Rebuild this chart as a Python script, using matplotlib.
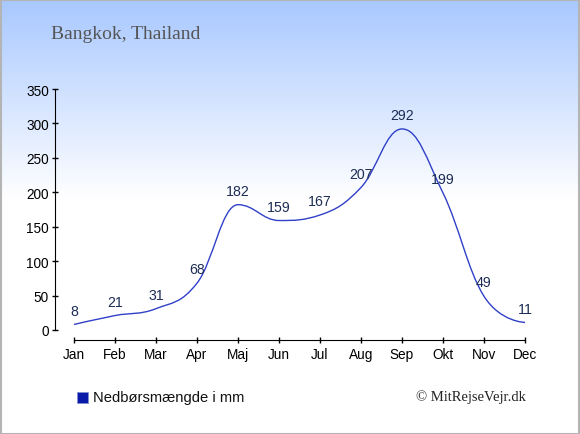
import numpy as np
import matplotlib
matplotlib.use("Agg")
import matplotlib.pyplot as plt
from matplotlib.colors import LinearSegmentedColormap
from matplotlib.path import Path
from matplotlib.patches import PathPatch

months = ["Jan", "Feb", "Mar", "Apr", "Maj", "Jun", "Jul", "Aug", "Sep", "Okt", "Nov", "Dec"]
rain = [8, 21, 31, 68, 182, 159, 167, 207, 292, 199, 49, 11]
yticks = [0, 50, 100, 150, 200, 250, 300, 350]
title = "Bangkok, Thailand"
legend_label = "Nedbørsmængde i mm"
credit = "© MitRejseVejr.dk"

W, H = 580, 435
fig = plt.figure(figsize=(W / 100, H / 100), dpi=100)

# background gradient
bg = fig.add_axes([0, 0, 1, 1], zorder=0)
grad = np.linspace(0, 1, 512).reshape(-1, 1)
cmap = LinearSegmentedColormap.from_list("bg", [(0, "#ffffff"), (1 - 200 / H, "#ffffff"), (1.0, "#a8c8ff")])
bg.imshow(grad, aspect="auto", cmap=cmap, origin="lower", extent=[0, 1, 0, 1])
bg.set_xlim(0, 1); bg.set_ylim(0, 1)
bg.axis("off")
bg.add_patch(plt.Rectangle((0.001, 0.001), 0.997, 0.996, fill=False, edgecolor="#b4b4b4", lw=1.5, transform=bg.transAxes))

# main axes: x from Jan (74px) to Dec (525px); y 0 at 331px, 350 at 90px
left, right = 74 / W, 525 / W
bottom, top = 1 - 331 / H, 1 - 90 / H
ax = fig.add_axes([left, bottom, right - left, top - bottom], zorder=1)
ax.patch.set_alpha(0)

x = np.arange(len(rain), dtype=float)
y = np.array(rain, dtype=float)

# spline-style smoothing (bezier with clamped control points)
def spline_path(xp, yp, smoothing=1.5):
    denom = smoothing + 1
    n = len(xp)
    lc = [(xp[i], yp[i]) for i in range(n)]
    rc = [(xp[i], yp[i]) for i in range(n)]
    for i in range(1, n - 1):
        px, py = xp[i], yp[i]
        lx, ly = xp[i - 1], yp[i - 1]
        nx, ny = xp[i + 1], yp[i + 1]
        lcx = (smoothing * px + lx) / denom
        lcy = (smoothing * py + ly) / denom
        rcx = (smoothing * px + nx) / denom
        rcy = (smoothing * py + ny) / denom
        corr = ((rcy - lcy) * (rcx - px)) / (rcx - lcx) + py - rcy
        lcy += corr; rcy += corr
        if lcy > ly and lcy > py:
            lcy = max(ly, py); rcy = 2 * py - lcy
        elif lcy < ly and lcy < py:
            lcy = min(ly, py); rcy = 2 * py - lcy
        if rcy > ny and rcy > py:
            rcy = max(ny, py); lcy = 2 * py - rcy
        elif rcy < ny and rcy < py:
            rcy = min(ny, py); lcy = 2 * py - rcy
        lc[i] = (lcx, lcy); rc[i] = (rcx, rcy)
    verts = [(xp[0], yp[0])]
    codes = [Path.MOVETO]
    for i in range(1, n):
        verts += [rc[i - 1], lc[i], (xp[i], yp[i])]
        codes += [Path.CURVE4] * 3
    return Path(verts, codes)

ax.add_patch(PathPatch(spline_path(x, y), fill=False, edgecolor="#3040c8", lw=1.0))

for xi, yi in zip(x, rain):
    ax.annotate(str(yi), (xi, yi), xytext=(0, 10), textcoords="offset points",
                ha="center", va="center", fontsize=10.2, color="#1c2c54", family="Liberation Sans")

ax.set_xlim(0, len(rain) - 1)
ax.set_ylim(0, 350)
ax.set_yticks(yticks)
ax.set_xticks(x)
ax.set_xticklabels(months)
for s in ["top", "right"]:
    ax.spines[s].set_visible(False)
ax.spines["left"].set_position(("outward", 14))
ax.spines["bottom"].set_position(("outward", 7.2))
ax.tick_params(axis="both", direction="inout", length=4.3, width=1, labelsize=9.8, colors="black")
ax.tick_params(axis="y", pad=2)
ax.tick_params(axis="x", pad=3)
for lab in ax.get_xticklabels() + ax.get_yticklabels():
    lab.set_family("Liberation Sans")

fig.text(51 / W, 1 - 39 / H, title, fontsize=14, color="#555555", family="Liberation Serif", va="baseline", ha="left")

# legend
fig.patches.append(plt.Rectangle((77 / W, 1 - 404 / H), 11 / W, 11 / H, transform=fig.transFigure,
                                 facecolor="#0a1aa8", edgecolor="#8090d0", lw=0.5))
fig.text(93 / W, 1 - 398 / H, legend_label, fontsize=10.6, color="#111111", family="Liberation Sans", va="center", ha="left")
fig.text(526 / W, 1 - 397 / H, credit, fontsize=10.5, color="#222222", family="Liberation Serif", va="center", ha="right")

fig.savefig("out.png", dpi=100)
